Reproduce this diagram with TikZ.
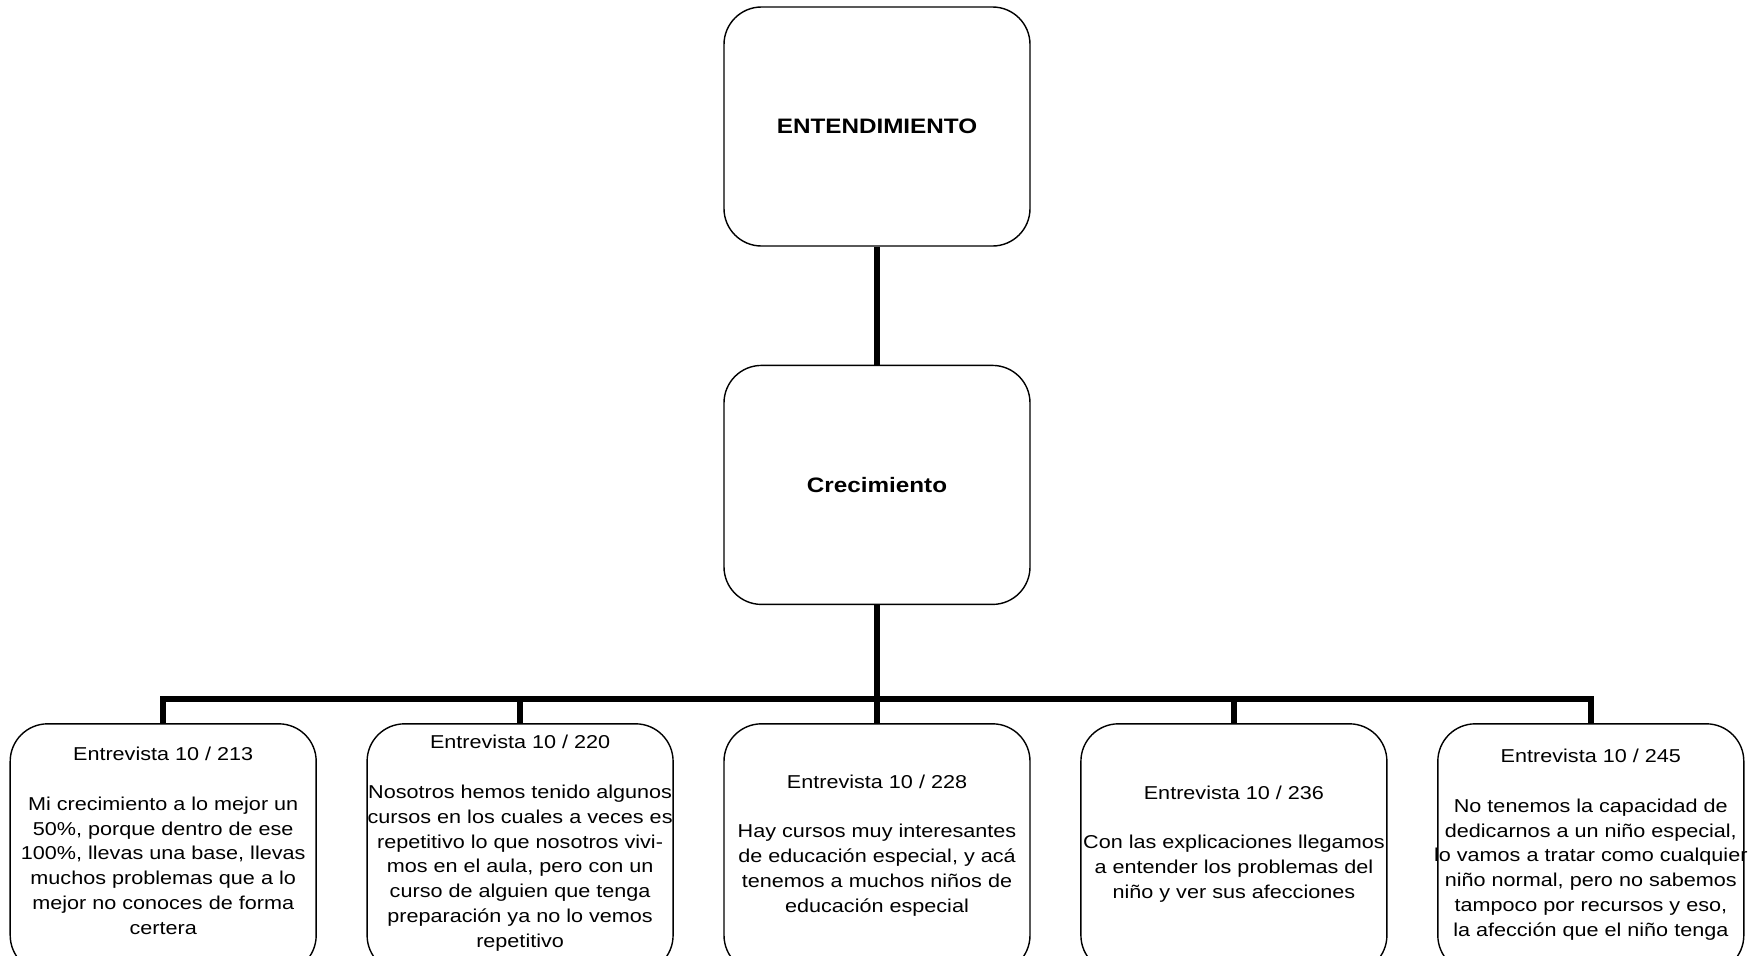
\documentclass[tikz,border=0pt]{standalone}
\usepackage{fontspec}
\setmainfont{Liberation Sans}[FakeStretch=1.16]
\usepackage{tikz}
\usetikzlibrary{positioning}
\tikzset{
  topbox/.style={rectangle,rounded corners=0.75cm,draw=black,line width=0.8pt,fill=white,
    minimum width=6.12cm,minimum height=4.78cm,inner sep=0pt,align=center,
    font=\fontsize{11.9}{14}\selectfont\bfseries},
  quotebox/.style={rectangle,rounded corners=0.75cm,draw=black,line width=0.8pt,fill=white,
    minimum width=6.12cm,inner sep=0pt,align=center,font=\fontsize{10.6}{14.2}\selectfont},
  link/.style={line width=3.4pt,draw=black}
}

\begin{document}
\begin{tikzpicture}[node distance=2.36cm and 0.99cm]
\useasboundingbox (0,0) rectangle (34.98,-19.1);
\clip (0,0) rectangle (34.98,-19.1);
\node[topbox] (ent) at (17.54,-2.53) {ENTENDIMIENTO};
\node[topbox,below=of ent] (crec) {Crecimiento};
\node[quotebox,below=of crec,text height=3.78cm,text depth=1.20cm] (e228)
  {Entrevista 10 / 228\\[14.2pt]
   Hay cursos muy interesantes\\
   de educación especial, y acá\\
   tenemos a muchos niños de\\
   educación especial};
\node[quotebox,left=of e228,text height=4.48cm,text depth=0.50cm] (e220)
  {Entrevista 10 / 220\\[14.2pt]
   \makebox[6cm]{Nosotros hemos tenido algunos}\\
   \makebox[6cm]{cursos en los cuales a veces es}\\
   repetitivo lo que nosotros vivi-\\
   mos en el aula, pero con un\\
   curso de alguien que tenga\\
   preparación ya no lo vemos\\
   repetitivo};
\node[quotebox,left=of e220,text height=4.22cm,text depth=0.76cm] (e213)
  {Entrevista 10 / 213\\[14.2pt]
   Mi crecimiento a lo mejor un\\
   50\%, porque dentro de ese\\
   100\%, llevas una base, llevas\\
   muchos problemas que a lo\\
   mejor no conoces de forma\\
   certera};
\node[quotebox,right=of e228,text height=3.50cm,text depth=1.48cm] (e236)
  {Entrevista 10 / 236\\[14.2pt]
   Con las explicaciones llegamos\\
   a entender los problemas del\\
   niño y ver sus afecciones};
\node[quotebox,right=of e236,text height=4.26cm,text depth=0.72cm] (e245)
  {Entrevista 10 / 245\\[14.2pt]
   No tenemos la capacidad de\\
   dedicarnos a un niño especial,\\
   \makebox[6cm]{lo vamos a tratar como cualquier}\\
   niño normal, pero no sabemos\\
   tampoco por recursos y eso,\\
   la afección que el niño tenga};
\coordinate (bus) at ([yshift=0.48cm]e228.north);
\draw[link] (ent) -- (crec);
\draw[link] (crec) -- (bus);
\draw[link] (e213) |- (bus -| e245) -- (e245);
\foreach \n in {e220,e228,e236} \draw[link] (bus -| \n) -- (\n);
\end{tikzpicture}
\end{document}
